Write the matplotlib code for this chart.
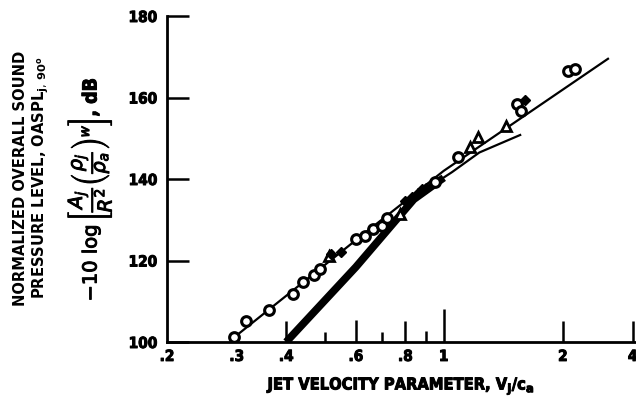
import numpy as np
import matplotlib.pyplot as plt
from matplotlib import font_manager
import matplotlib.patheffects as pe

# data
circle_x = [0.296, 0.317, 0.361, 0.417, 0.44, 0.469, 0.488, 0.602, 0.631, 0.661,
            0.697, 0.721, 0.949, 1.085, 1.53, 1.57, 2.06, 2.14]
circle_y = [101.2, 105.2, 107.9, 111.8, 114.7, 116.4, 117.9, 125.3, 126.0, 127.7,
            128.5, 130.5, 139.3, 145.4, 158.4, 156.7, 166.5, 167.0]
tri_x = [0.514, 0.774, 1.164, 1.22, 1.44]
tri_y = [121.1, 131.4, 147.9, 150.3, 153.0]
filled_x = [0.52, 0.55, 0.80, 0.83, 0.86, 0.88, 0.90, 1.60]
filled_y = [121.5, 122.0, 134.5, 135.5, 136.5, 137.5, 137.8, 159.5]

fit_x = [0.29, 0.6, 1.0, 2.6]
fit_y = [100.5, 125.0, 142.0, 169.5]
thick_x = [0.40, 0.60, 0.84, 1.0]
thick_y = [100.0, 118.4, 135.0, 140.3]
branch_x = [0.98, 1.05, 1.23, 1.56]
branch_y = [139.8, 141.7, 146.5, 150.8]

xtick_vals = [0.2, 0.3, 0.4, 0.5, 0.6, 0.7, 0.8, 0.9, 1.0, 2.0, 3.0]
xtick_labels = ['.2', '.3', '.4', '', '.6', '', '.8', '', '1', '2', '4']
xtick_len = [0, 0, 15, 7, 16, 7, 15, 8, 24, 15, 15]
ytick_vals = [100, 120, 140, 160, 180]


def font_file(*basenames):
    files = {f.fname.split('/')[-1]: f.fname for f in font_manager.fontManager.ttflist}
    for b in basenames:
        if b in files:
            return font_manager.FontProperties(fname=files[b])
    return font_manager.FontProperties(family='DejaVu Sans', weight='bold')


cond = font_file('DejaVuSansCondensed-Bold.ttf', 'DejaVuSans-Bold.ttf')

plt.rcParams['mathtext.fontset'] = 'dejavusans'
bold = [pe.withStroke(linewidth=0.7, foreground='black')]

fig = plt.figure(figsize=(6.36, 4.02), dpi=100)
ax = fig.add_axes([167 / 636, 59 / 402, 469 / 636, 326 / 402])

ax.plot(fit_x, fit_y, color='black', lw=1.6, zorder=2)
ax.plot(thick_x, thick_y, color='black', lw=5.5, solid_capstyle='butt', zorder=2)
ax.plot(branch_x, branch_y, color='black', lw=1.6, zorder=2)

ax.plot(circle_x, circle_y, 'o', ms=7, mfc='white', mec='black', mew=2.2, zorder=3)
ax.plot(tri_x, tri_y, '^', ms=7, mfc='white', mec='black', mew=2.0, zorder=3)
ax.plot(filled_x, filled_y, 'D', ms=5, color='black', zorder=3)

ax.set_xscale('log')
ax.set_xlim(0.2, 3.06)
ax.set_ylim(100, 180)

ax.spines['top'].set_visible(False)
ax.spines['right'].set_visible(False)
ax.spines['left'].set_linewidth(2.0)
ax.spines['bottom'].set_linewidth(2.0)

ax.xaxis.set_minor_locator(plt.NullLocator())
ax.set_xticks(xtick_vals)
ax.set_xticklabels(xtick_labels)
ax.tick_params(axis='x', direction='in', width=1.8, pad=5)
for t, ln in zip(ax.xaxis.get_major_ticks(), xtick_len):
    t.tick1line.set_markersize(ln)

ax.set_yticks(ytick_vals)
ax.tick_params(axis='y', direction='in', length=16, width=1.8, pad=7)
for lab in ax.get_xticklabels() + ax.get_yticklabels():
    lab.set_fontproperties(cond)
    lab.set_fontsize(11)
    lab.set_path_effects(bold)

ax.text(0.5, -0.135, r'JET VELOCITY PARAMETER, V$_\mathbf{j}$/c$_\mathbf{a}$',
        transform=ax.transAxes, ha='center', va='center', fontproperties=cond,
        fontsize=11.8, path_effects=bold)

fig.text(21 / 636, 1 - 178 / 402, 'NORMALIZED OVERALL SOUND', rotation=90,
         ha='center', va='center', fontproperties=cond, fontsize=11.8)
fig.text(41 / 636, 1 - 178 / 402, r'PRESSURE LEVEL, OASPL$_{\mathbf{j},\,\mathbf{90^o}}$',
         rotation=90, ha='center', va='center', fontproperties=cond, fontsize=11.8)
fig.text(90 / 636, 1 - 190 / 402,
         r'$-10\ \log\left[\dfrac{A_j}{R^2}\left(\dfrac{\rho_j}{\rho_a}\right)^w\right]$, dB',
         rotation=90, ha='center', va='center', fontproperties=cond, fontsize=14,
         path_effects=bold)

fig.savefig('out.png', dpi=100)
